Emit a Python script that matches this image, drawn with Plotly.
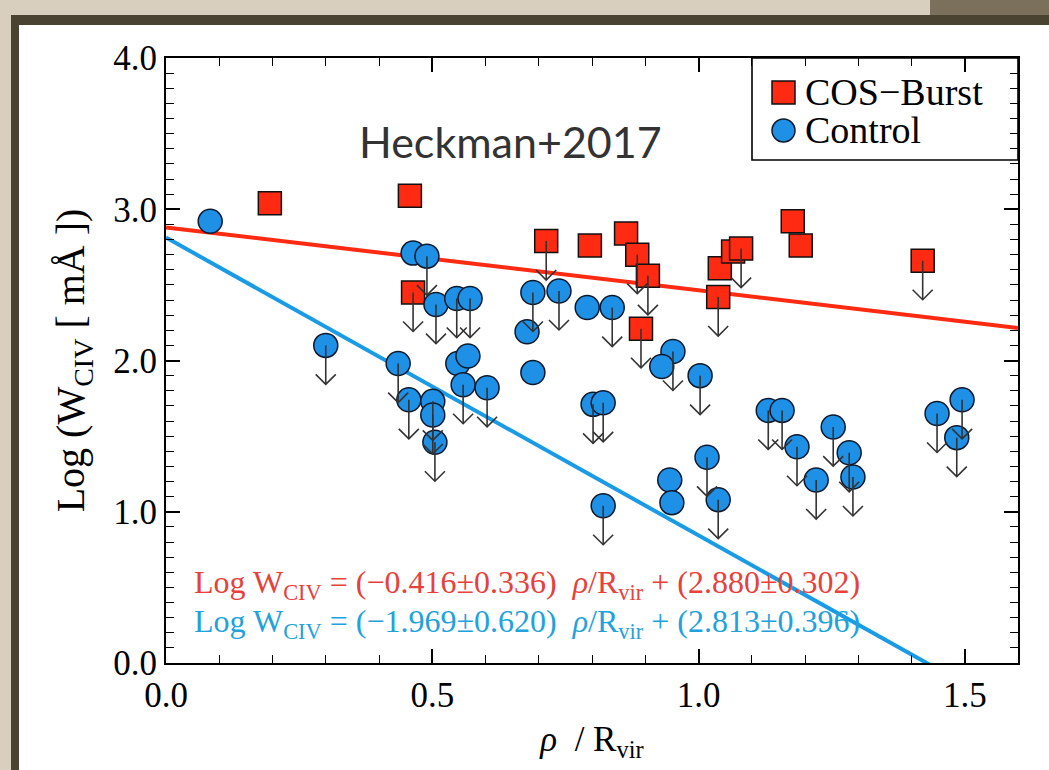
import plotly.graph_objects as go

# ---------------- data ----------------
burst_x = [0.195, 0.458, 0.464, 0.714, 0.796, 0.864, 0.885, 0.905, 0.892,
           1.040, 1.065, 1.080, 1.037, 1.177, 1.192, 1.421]
burst_y = [3.04, 3.09, 2.45, 2.79, 2.76, 2.84, 2.70, 2.56, 2.21,
           2.61, 2.72, 2.74, 2.42, 2.92, 2.76, 2.66]
burst_lim = [0, 0, 1, 1, 0, 0, 1, 1, 1,
             0, 0, 1, 1, 0, 0, 1]

ctrl_x = [0.083, 0.300, 0.436, 0.456, 0.464, 0.490, 0.507, 0.546, 0.571,
          0.548, 0.567, 0.558, 0.603, 0.501, 0.501, 0.505, 0.689, 0.738,
          0.678, 0.689, 0.791, 0.838, 0.952, 0.931, 1.003, 0.802, 0.821,
          1.131, 1.157, 1.185, 1.016, 0.946, 0.950, 1.037, 0.821, 1.253,
          1.283, 1.290, 1.221, 1.448, 1.495, 1.485]
ctrl_y = [2.92, 2.10, 1.98, 1.74, 2.71, 2.69, 2.37, 2.41, 2.41,
          1.98, 2.03, 1.84, 1.82, 1.73, 1.64, 1.46, 2.45, 2.46,
          2.19, 1.92, 2.35, 2.35, 2.06, 1.96, 1.90, 1.71, 1.72,
          1.67, 1.67, 1.43, 1.36, 1.21, 1.06, 1.08, 1.04, 1.56,
          1.39, 1.23, 1.21, 1.65, 1.74, 1.49]
ctrl_lim = [0, 1, 1, 1, 0, 1, 1, 1, 1,
            0, 0, 1, 1, 1, 1, 1, 1, 1,
            0, 0, 0, 1, 1, 0, 1, 1, 1,
            1, 1, 1, 1, 0, 0, 1, 1, 1,
            1, 1, 1, 1, 1, 1]

series_names = ["COS\u2212Burst", "Control"]

# linear fits
RED_SLOPE, RED_INT = -0.416, 2.880
BLUE_SLOPE, BLUE_INT = -1.969, 2.813
X_RANGE = [0.0, 1.6]
Y_RANGE = [0.0, 4.0]

# ---------------- styling ----------------
RED = "#ff2a12"
BLUE = "#1e90e6"
RED_TXT = "#e8403a"
BLUE_TXT = "#22a2dc"
SERIF = "Liberation Serif, Times New Roman, serif"

W, H = 1049, 770
L_M, R_M, T_M, B_M = 166, 31, 58, 107
PW = W - L_M - R_M
PH = H - T_M - B_M


def arrows(xs, ys, lims, length=0.258, dx=0.0188, dy=0.066):
    ax, ay = [], []
    for x, y, f in zip(xs, ys, lims):
        if not f:
            continue
        tip = y - length
        ax += [x, x, None, x - dx, x, x + dx, None]
        ay += [y, tip, None, tip + dy, tip, tip + dy, None]
    return ax, ay


fig = go.Figure()

# fit lines
fig.add_trace(go.Scatter(x=X_RANGE, y=[RED_INT + RED_SLOPE * v for v in X_RANGE],
                         mode="lines", line=dict(color=RED, width=4),
                         showlegend=False, hoverinfo="skip"))
fig.add_trace(go.Scatter(x=X_RANGE, y=[BLUE_INT + BLUE_SLOPE * v for v in X_RANGE],
                         mode="lines", line=dict(color="#1a9be6", width=4),
                         showlegend=False, hoverinfo="skip"))

# markers
fig.add_trace(go.Scatter(x=burst_x, y=burst_y, mode="markers", name=series_names[0],
                         showlegend=False,
                         marker=dict(symbol="square", size=23, color=RED,
                                     line=dict(color="#111111", width=1.5))))
fig.add_trace(go.Scatter(x=ctrl_x, y=ctrl_y, mode="markers", name=series_names[1],
                         showlegend=False,
                         marker=dict(symbol="circle", size=24, color=BLUE,
                                     line=dict(color="#0d1a2e", width=1.5))))

# upper-limit arrows
for xs, ys, ls in [(burst_x, burst_y, burst_lim), (ctrl_x, ctrl_y, ctrl_lim)]:
    ax, ay = arrows(xs, ys, ls)
    fig.add_trace(go.Scatter(x=ax, y=ay, mode="lines",
                             line=dict(color="#333333", width=1.6),
                             showlegend=False, hoverinfo="skip"))


def pxx(px):
    return (px - L_M) / PW


def pxy(py):
    return (H - B_M - py) / PH


shapes = [
    # slide frame
    dict(type="rect", xref="paper", yref="paper", layer="below",
         x0=pxx(11), x1=pxx(W + 5), y0=pxy(15), y1=pxy(H + 5),
         fillcolor="#4b4332", line=dict(width=0)),
    dict(type="rect", xref="paper", yref="paper", layer="below",
         x0=pxx(19), x1=pxx(W + 5), y0=pxy(25), y1=pxy(H + 5),
         fillcolor="#ffffff", line=dict(width=0)),
    dict(type="rect", xref="paper", yref="paper", layer="below",
         x0=pxx(930), x1=pxx(W + 5), y0=pxy(-5), y1=pxy(15),
         fillcolor="#7b705c", line=dict(width=0)),
    # legend box
    dict(type="rect", xref="paper", yref="paper", layer="above",
         x0=pxx(752), x1=1.0, y0=pxy(160), y1=1.0,
         fillcolor="rgba(0,0,0,0)", line=dict(color="black", width=1.6)),
    dict(type="rect", xref="paper", yref="paper", layer="above",
         x0=pxx(772), x1=pxx(795), y0=pxy(104), y1=pxy(81),
         fillcolor=RED, line=dict(color="#111111", width=1.5)),
    dict(type="circle", xref="paper", yref="paper", layer="above",
         x0=pxx(772), x1=pxx(795), y0=pxy(142), y1=pxy(119),
         fillcolor=BLUE, line=dict(color="#0d1a2e", width=1.5)),
]

annotations = [
    dict(text="Heckman+2017", x=pxx(510), y=pxy(141), xref="paper", yref="paper",
         xanchor="center", yanchor="middle",
         showarrow=False, font=dict(family="Lato, Open Sans, sans-serif", size=43,
                                    color="#333333")),
    dict(text="Log W<sub>CIV</sub> = (\u22120.416\u00b10.336)  <i>\u03c1</i>/R<sub>vir</sub> + (2.880\u00b10.302)",
         x=pxx(192), y=pxy(584), xref="paper", yref="paper", xanchor="left",
         yanchor="middle",
         showarrow=False, font=dict(family=SERIF, size=32, color=RED_TXT)),
    dict(text="Log W<sub>CIV</sub> = (\u22121.969\u00b10.620)  <i>\u03c1</i>/R<sub>vir</sub> + (2.813\u00b10.396)",
         x=pxx(192), y=pxy(623), xref="paper", yref="paper", xanchor="left",
         yanchor="middle",
         showarrow=False, font=dict(family=SERIF, size=32, color=BLUE_TXT)),
    # legend labels
    dict(text=series_names[0], x=pxx(803), y=pxy(92), xref="paper", yref="paper",
         xanchor="left", yanchor="middle", showarrow=False,
         font=dict(family=SERIF, size=38, color="black")),
    dict(text=series_names[1], x=pxx(803), y=pxy(130), xref="paper", yref="paper",
         xanchor="left", yanchor="middle", showarrow=False,
         font=dict(family=SERIF, size=38, color="black")),
]

axis_common = dict(showline=True, linecolor="black", linewidth=2, mirror="ticks",
                   ticks="inside", ticklen=14, tickwidth=1.6, tickcolor="black",
                   showgrid=False, zeroline=False, tickformat=".1f",
                   tickfont=dict(family=SERIF, size=35, color="black"))

fig.update_layout(
    width=W, height=H,
    margin=dict(l=L_M, r=R_M, t=T_M, b=B_M),
    paper_bgcolor="#d8cfbe",
    plot_bgcolor="rgba(0,0,0,0)",
    shapes=shapes,
    annotations=annotations,
    xaxis=dict(range=X_RANGE, dtick=0.5, tick0=0,
               minor=dict(dtick=0.1, ticks="inside", ticklen=8, tickwidth=1.4,
                          tickcolor="black"),
               title=dict(text="<i>\u03c1</i>  / R<sub>vir</sub>",
                          font=dict(family=SERIF, size=35, color="black"), standoff=12),
               **axis_common),
    yaxis=dict(range=Y_RANGE, dtick=1.0, tick0=0,
               minor=dict(dtick=0.1, ticks="inside", ticklen=8, tickwidth=1.4,
                          tickcolor="black"),
               title=dict(text="Log (W<sub>CIV</sub> [ m\u00c5 ])",
                          font=dict(family=SERIF, size=40, color="black"), standoff=16),
               **axis_common),
    showlegend=False,
)

fig.write_html("out.html")
